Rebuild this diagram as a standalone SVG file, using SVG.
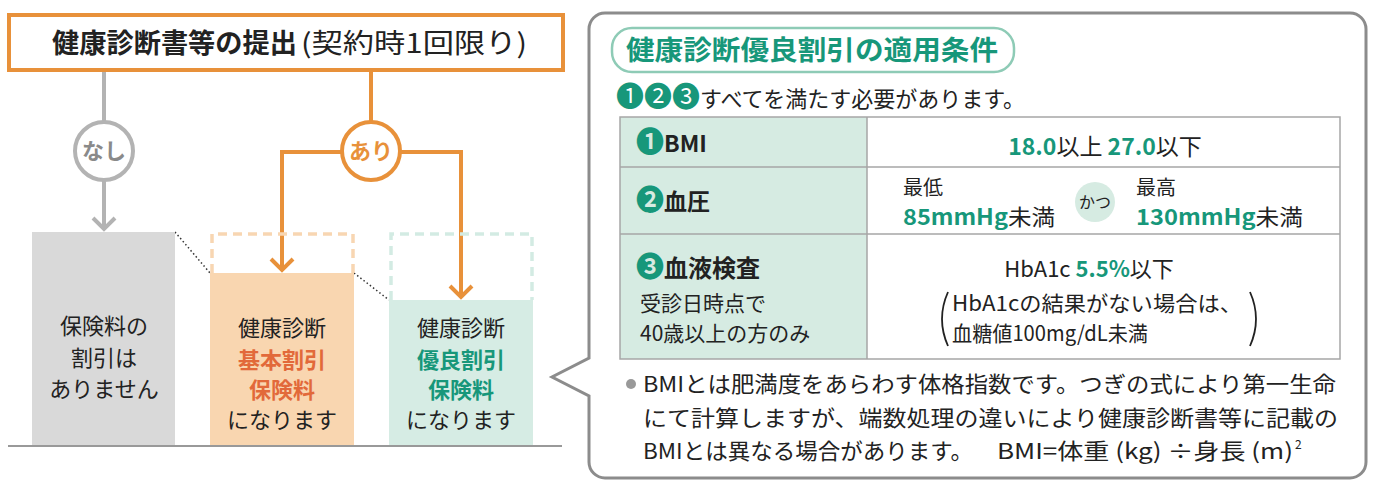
<svg xmlns="http://www.w3.org/2000/svg" width="1376" height="490" viewBox="0 0 1376 490">
<style>
text{font-family:"Noto Sans CJK JP","Noto Sans",sans-serif;fill:#222}
.b{font-weight:700}
.g{fill:#17977a}
.o{fill:#e2693a}
.gray{fill:#8a8a8a}
.orl{fill:#e8913a}
.mid{text-anchor:middle}
.num{fill:#17977a;font-size:28px}
.cn{fill:none;stroke-width:4;stroke-linecap:butt}
.org{stroke:#e8913a}
.gry{stroke:#b3b3b3}
.tl{stroke:#a6a6a6;stroke-width:1.5}
</style>
<rect width="1376" height="490" fill="#fff"/>

<g id="title-box">
<rect x="9" y="15" width="554" height="55" fill="#fff" stroke="#e8913a" stroke-width="4"/>
<text x="52" y="53" font-size="27" class="b" textLength="245" lengthAdjust="spacingAndGlyphs">健康診断書等の提出</text>
<text x="301" y="53" font-size="27" textLength="226" lengthAdjust="spacingAndGlyphs">(契約時1回限り)</text>
</g>

<g id="connectors">
<line class="cn gry" x1="104" y1="72" x2="104" y2="122"/>
<line class="cn gry" x1="104" y1="180" x2="104" y2="229"/>
<polyline class="cn gry" points="93,218 104,229 115,218"/>
<line class="cn org" x1="371" y1="72" x2="371" y2="122"/>
<path class="cn org" d="M342,152 H282 V270"/>
<path class="cn org" d="M400,152 H461 V297"/>
<polyline class="cn org" points="271,259 282,270 293,259"/>
<polyline class="cn org" points="450,286 461,297 472,286"/>
<line x1="175" y1="232" x2="210" y2="273" stroke="#333" stroke-width="1.5" stroke-dasharray="1.5 2.5"/>
<line x1="354" y1="273" x2="389" y2="300" stroke="#333" stroke-width="1.5" stroke-dasharray="1.5 2.5"/>
</g>

<g id="node-nashi">
<circle cx="104" cy="151" r="29" fill="#fff" stroke="#b3b3b3" stroke-width="4"/>
<text x="104" y="159" font-size="22" class="b gray mid">なし</text>
</g>

<g id="node-ari">
<circle cx="371" cy="151" r="29" fill="#fff" stroke="#e8913a" stroke-width="4"/>
<text x="371" y="159" font-size="22" class="b orl mid">あり</text>
</g>

<g id="bar-none">
<rect x="32" y="232" width="143" height="214" fill="#d9d9d9"/>
<text x="104" y="334" font-size="22" class="mid">保険料の</text>
<text x="104" y="366" font-size="22" class="mid">割引は</text>
<text x="104" y="397" font-size="22" class="mid">ありません</text>
</g>

<g id="bar-basic">
<path d="M212,273 V234 H353 V273" fill="none" stroke="#f8d6b2" stroke-width="3.5" stroke-dasharray="9 6"/>
<rect x="210" y="273" width="144" height="173" fill="#f9d6b0"/>
<text x="282" y="336" font-size="22" class="mid">健康診断</text>
<text x="282" y="368" font-size="22" class="mid b o">基本割引</text>
<text x="282" y="398" font-size="22" class="mid b o">保険料</text>
<text x="282" y="428" font-size="22" class="mid">になります</text>
</g>

<g id="bar-good">
<path d="M391,300 V234 H532 V300" fill="none" stroke="#d3ebe3" stroke-width="3.5" stroke-dasharray="9 6"/>
<rect x="389" y="300" width="144" height="146" fill="#d6ece4"/>
<text x="461" y="336" font-size="22" class="mid">健康診断</text>
<text x="461" y="368" font-size="22" class="mid b g">優良割引</text>
<text x="461" y="398" font-size="22" class="mid b g">保険料</text>
<text x="461" y="428" font-size="22" class="mid">になります</text>
</g>

<line id="baseline" x1="8" y1="446" x2="562" y2="446" stroke="#999" stroke-width="2"/>

<g id="panel">
<path d="M605,13 H1350 A16,16 0 0 1 1366,29 V462 A16,16 0 0 1 1350,478 H605 A16,16 0 0 1 589,462 V396 L552,377 L589,358 V29 A16,16 0 0 1 605,13 Z" fill="#fff" stroke="#8c8c8c" stroke-width="3"/>
<rect x="612" y="28" width="402" height="44" rx="20" fill="#fff" stroke="#8ecbb6" stroke-width="2.5"/>
<text x="626" y="60" font-size="27" class="b g" textLength="372" lengthAdjust="spacingAndGlyphs">健康診断優良割引の適用条件</text>
<text x="616" y="107" font-size="22"><tspan class="num">❶❷❸</tspan>すべてを満たす必要があります。</text>
</g>

<g id="table">
<rect x="620" y="117" width="247" height="242" fill="#d6ebe2"/>
<rect x="620" y="117" width="720" height="242" fill="none" class="tl"/>
<line x1="867" y1="117" x2="867" y2="359" class="tl"/>
<line x1="620" y1="167" x2="1340" y2="167" class="tl"/>
<line x1="620" y1="234" x2="1340" y2="234" class="tl"/>
</g>

<g id="row-bmi">
<text x="636" y="152" font-size="23" class="b"><tspan class="num">❶</tspan>BMI</text>
<text x="1105" y="155" font-size="23" class="mid"><tspan class="b g">18.0</tspan>以上 <tspan class="b g">27.0</tspan>以下</text>
</g>

<g id="row-bp">
<text x="636" y="210" font-size="23" class="b"><tspan class="num">❷</tspan>血圧</text>
<text x="903" y="195" font-size="20">最低</text>
<text x="903" y="225" font-size="22" textLength="152" lengthAdjust="spacingAndGlyphs"><tspan class="b g">85mmHg</tspan>未満</text>
<circle cx="1095" cy="202" r="20" fill="#d6ebe2"/>
<text x="1095" y="208" font-size="16" class="mid">かつ</text>
<text x="1136" y="195" font-size="20">最高</text>
<text x="1136" y="225" font-size="22" textLength="167" lengthAdjust="spacingAndGlyphs"><tspan class="b g">130mmHg</tspan>未満</text>
</g>

<g id="row-blood">
<text x="636" y="277" font-size="24" class="b"><tspan class="num">❸</tspan>血液検査</text>
<text x="640" y="311" font-size="21">受診日時点で</text>
<text x="640" y="341" font-size="21">40歳以上の方のみ</text>
<text x="1089" y="277" font-size="22" class="mid">HbA1c <tspan class="b g">5.5%</tspan>以下</text>
<path d="M948,292 Q936,319 948,346" fill="none" stroke="#222" stroke-width="1.8"/>
<path d="M1250,292 Q1262,319 1250,346" fill="none" stroke="#222" stroke-width="1.8"/>
<text x="952" y="311" font-size="21" textLength="290" lengthAdjust="spacingAndGlyphs">HbA1cの結果がない場合は、</text>
<text x="952" y="341" font-size="21" textLength="196" lengthAdjust="spacingAndGlyphs">血糖値100mg/dL未満</text>
</g>

<g id="note">
<circle cx="631" cy="384" r="5" fill="#999"/>
<text x="643" y="392" font-size="22" textLength="693" lengthAdjust="spacingAndGlyphs">BMIとは肥満度をあらわす体格指数です。つぎの式により第一生命</text>
<text x="643" y="426" font-size="22" textLength="695" lengthAdjust="spacingAndGlyphs">にて計算しますが、端数処理の違いにより健康診断書等に記載の</text>
<text x="643" y="459" font-size="22" textLength="330" lengthAdjust="spacingAndGlyphs">BMIとは異なる場合があります。</text>
<text x="997" y="459" font-size="22" textLength="296" lengthAdjust="spacingAndGlyphs">BMI=体重 (kg) ÷身長 (m)</text>
<text x="1295" y="449" font-size="12">2</text>
</g>
</svg>
